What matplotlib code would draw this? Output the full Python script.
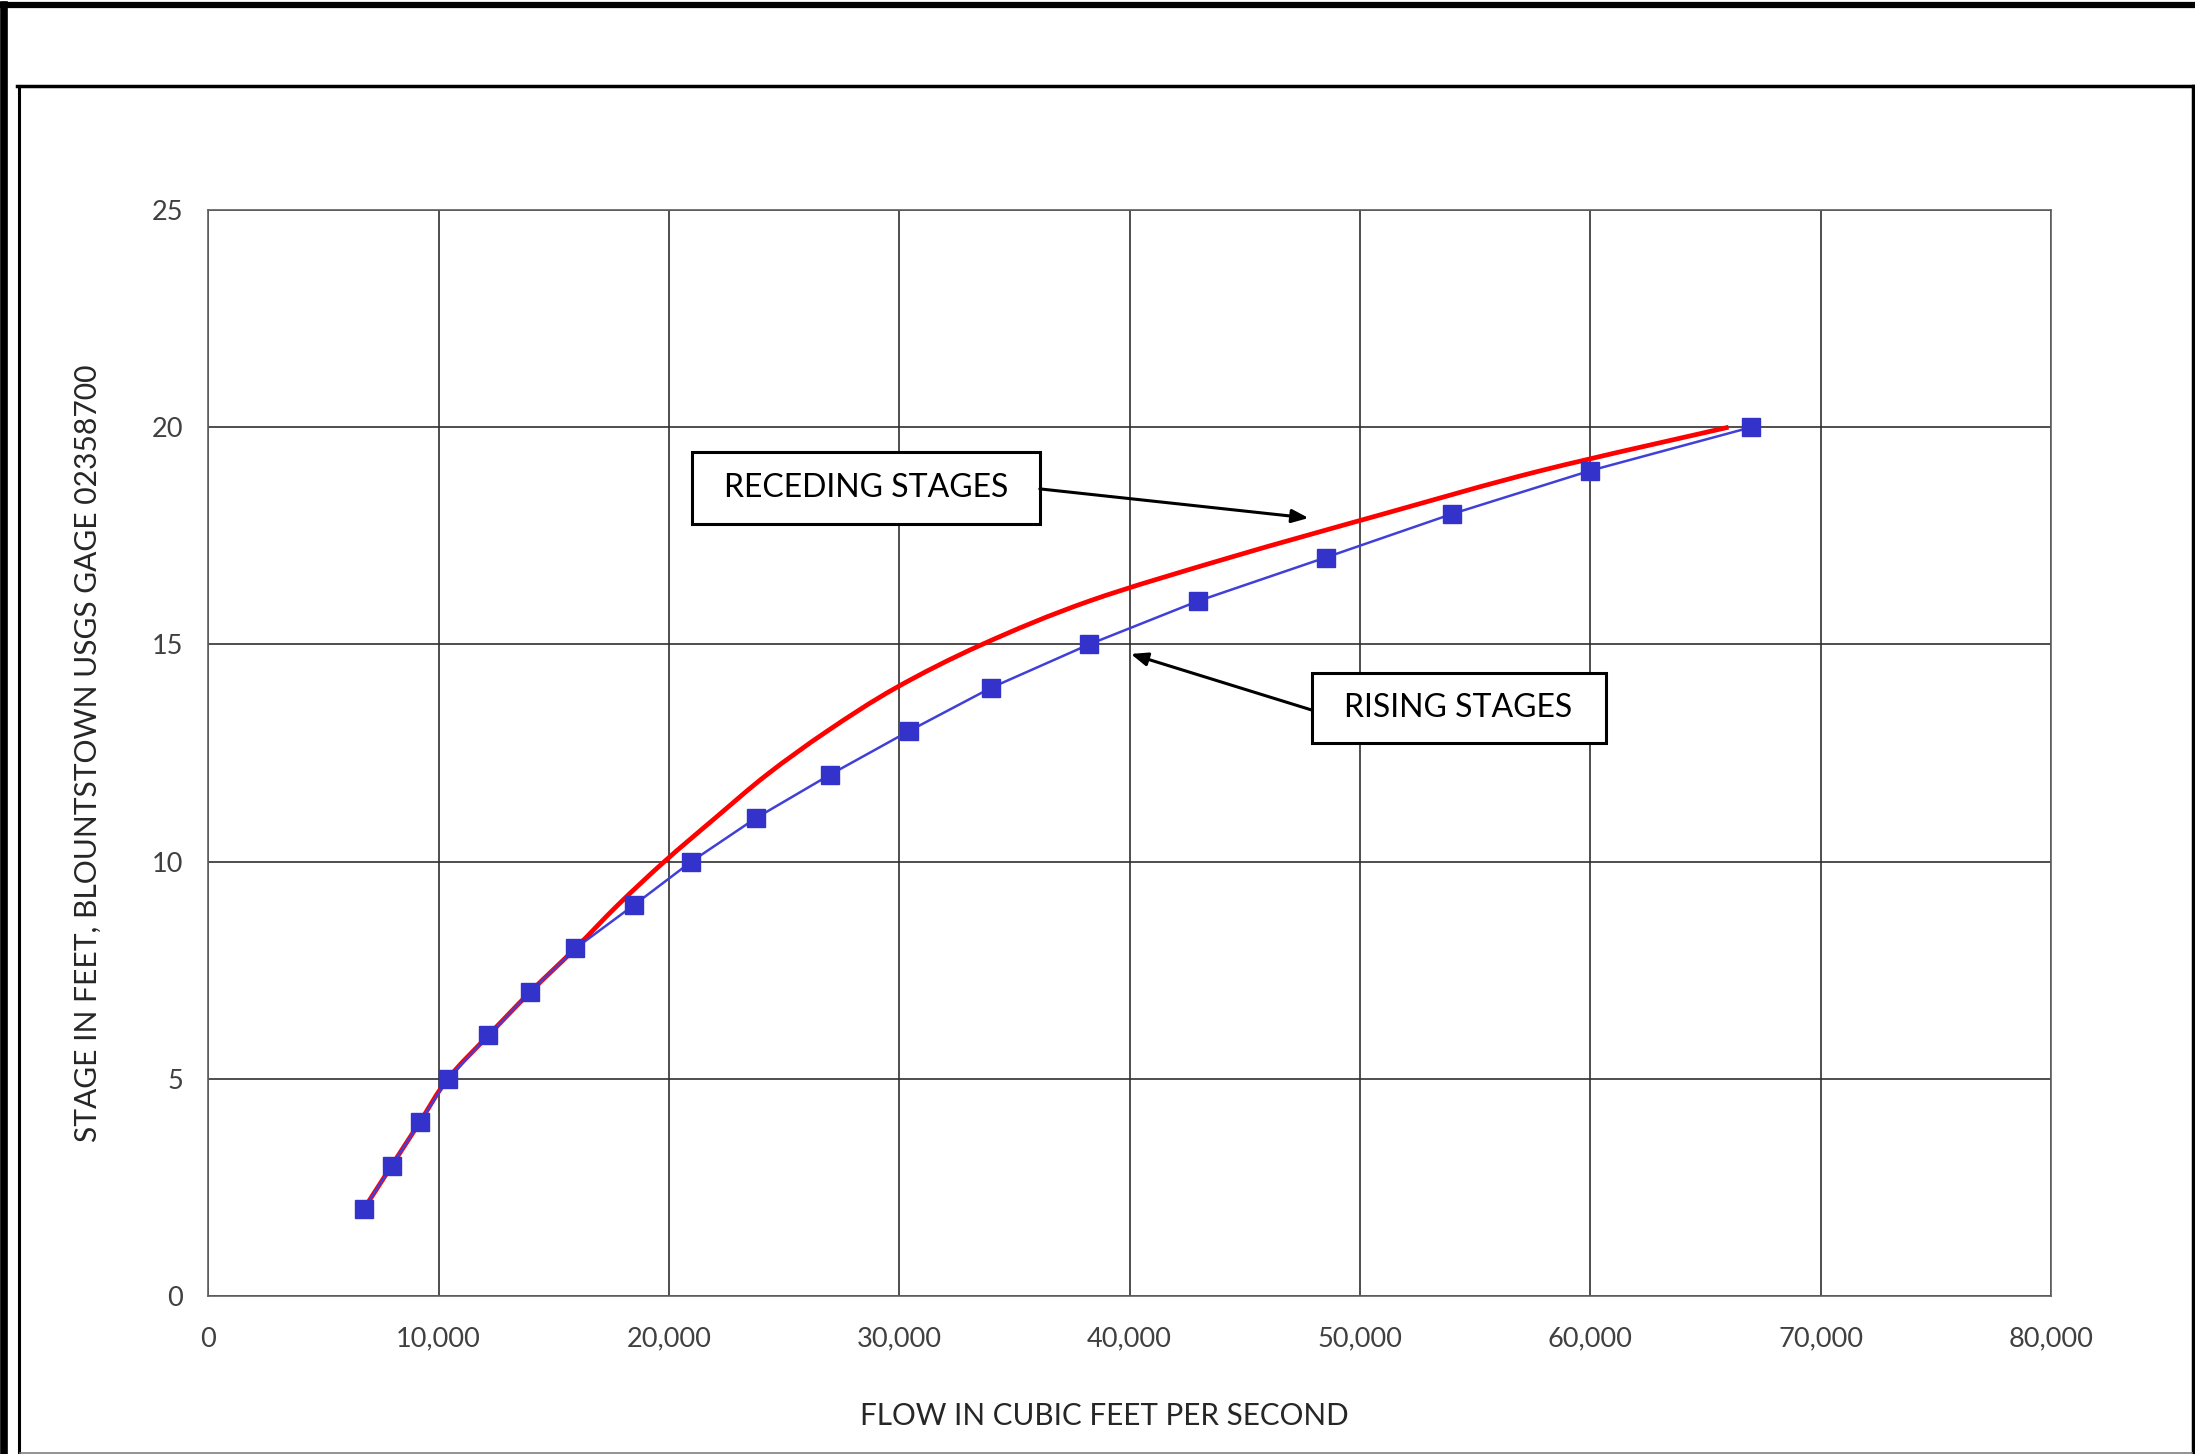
import matplotlib
matplotlib.use('Agg')
import matplotlib.pyplot as plt
from matplotlib.patches import Rectangle, PathPatch
from matplotlib.path import Path
from matplotlib.lines import Line2D
from matplotlib.ticker import FuncFormatter

plt.rcParams['font.family'] = ['Lato', 'DejaVu Sans']

# Rising stages (marker series)
rising_flow = [6750, 7960, 9180, 10400, 12160, 13980, 15930, 18480, 20970,
               23770, 26990, 30400, 33980, 38240, 42980, 48510, 53980, 60000, 66990]
rising_stage = [2, 3, 4, 5, 6, 7, 8, 9, 10, 11, 12, 13, 14, 15, 16, 17, 18, 19, 20]

# Receding stages (smoothed red curve)
receding_flow = [6750, 7960, 9180, 10400, 12160, 13980, 15930, 17780, 19800,
                 22000, 24250, 26860, 29850, 33600, 38260, 44350, 51000, 57860, 66000]
receding_stage = [2, 3, 4, 5, 6, 7, 8, 9, 10, 11, 12, 13, 14, 15, 16, 17, 18, 19, 20]

x_ticks = [0, 10000, 20000, 30000, 40000, 50000, 60000, 70000, 80000]
y_ticks = [0, 5, 10, 15, 20, 25]

W, H = 2195, 1454
fig = plt.figure(figsize=(W / 100, H / 100), dpi=100)


def fx(px):
    return px / W


def fy(py):
    return 1 - py / H


# outer / inner frames (pixel positions -> figure fraction)
frame_lines = [
    ((fx(3.5), fx(3.5)), (fy(5), fy(H)), 5.5, 'black'),
    ((fx(0), fx(W)), (fy(5), fy(5)), 4.5, 'black'),
    ((fx(18.5), fx(18.5)), (fy(85.5), fy(H)), 2.2, 'black'),
    ((fx(17), fx(2193)), (fy(85.5), fy(85.5)), 2.5, 'black'),
    ((fx(2192.5), fx(2192.5)), (fy(85.5), fy(H)), 2.5, 'black'),
    ((fx(20), fx(2192)), (fy(1452.5), fy(1452.5)), 1.2, '#808080'),
]
for xs, ys, lw, c in frame_lines:
    fig.add_artist(Line2D(xs, ys, lw=lw, color=c, transform=fig.transFigure))

ax = fig.add_axes([208.3 / W, 1 - 1296 / H, (2051 - 208.3) / W, (1296 - 210) / H])


def smooth_path(xs, ys):
    # Excel-style smoothed line: cubic Bezier segments through the points
    pts = list(zip(xs, ys))
    n = len(pts)
    verts = [pts[0]]
    codes = [Path.MOVETO]
    for i in range(n - 1):
        p0 = pts[max(i - 1, 0)]
        p1 = pts[i]
        p2 = pts[i + 1]
        p3 = pts[min(i + 2, n - 1)]
        c1 = (p1[0] + (p2[0] - p0[0]) / 6, p1[1] + (p2[1] - p0[1]) / 6)
        c2 = (p2[0] - (p3[0] - p1[0]) / 6, p2[1] - (p3[1] - p1[1]) / 6)
        verts += [c1, c2, p2]
        codes += [Path.CURVE4] * 3
    return Path(verts, codes)


ax.add_patch(PathPatch(smooth_path(receding_flow, receding_stage), facecolor='none',
                       edgecolor='#FF0000', lw=3.4, zorder=3, capstyle='butt'))
ax.plot(rising_flow, rising_stage, color='#4040D8', lw=1.8, marker='s',
        markersize=13.5, markerfacecolor='#3333CC', markeredgecolor='#3333CC',
        zorder=4)

ax.set_xlim(0, 80000)
ax.set_ylim(0, 25)
ax.set_xticks(x_ticks)
ax.set_yticks(y_ticks)
ax.xaxis.set_major_formatter(FuncFormatter(lambda v, p: f'{int(v):,}'))
ax.grid(True, color='#303030', lw=1.2)
ax.set_axisbelow(True)
for s in ax.spines.values():
    s.set_color('#606060')
    s.set_linewidth(1.2)
ax.tick_params(length=0, labelsize=19.5, labelcolor='#404040')
ax.tick_params(axis='x', pad=22)
ax.tick_params(axis='y', pad=18)

ax.set_xlabel('FLOW IN CUBIC FEET PER SECOND', fontsize=21.3, color='#262626', labelpad=36)
ax.xaxis.label.set_x(0.486)
ax.set_ylabel('STAGE IN FEET, BLOUNTSTOWN USGS GAGE 02358700', fontsize=21.6,
              color='#262626', labelpad=36)

# annotation boxes: label, box lower-left, width, height, arrow start, arrow tip
boxes = [
    ('RECEDING STAGES', (20990, 17.77), 15110, 1.66, (36100, 18.58), (47770, 17.91)),
    ('RISING STAGES', (47900, 12.73), 12760, 1.61, (47900, 13.49), (40050, 14.78)),
]
for label, (bx, by), bw, bh, start, tip in boxes:
    ax.add_patch(Rectangle((bx, by), bw, bh, facecolor='white', edgecolor='black',
                           lw=2.2, zorder=5))
    ax.text(bx + bw / 2, by + bh / 2, label, ha='center', va='center',
            fontsize=23, color='black', zorder=6)
    ax.annotate('', xy=tip, xytext=start,
                arrowprops=dict(arrowstyle='-|>,head_length=1.0,head_width=0.4',
                                color='black', lw=2.2, shrinkA=0, shrinkB=0),
                zorder=6)

fig.savefig('out.png', dpi=100)
